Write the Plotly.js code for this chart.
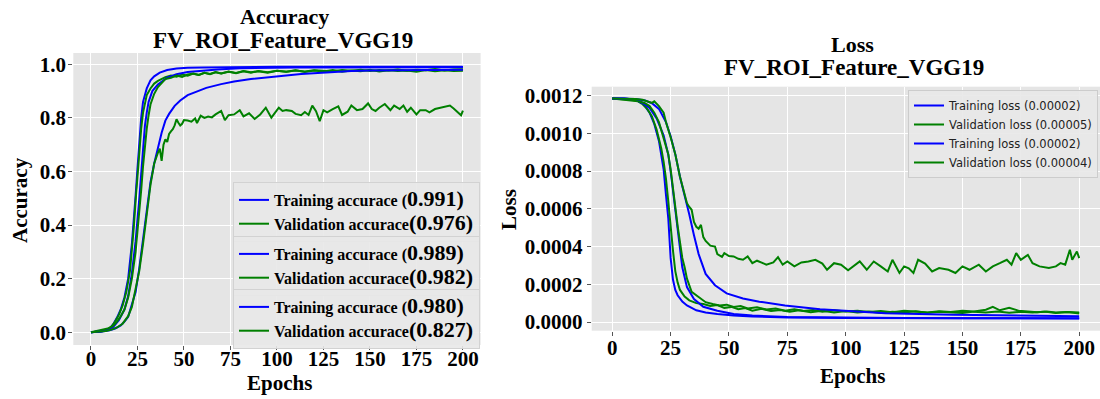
<!DOCTYPE html>
<html><head><meta charset="utf-8">
<script src="https://cdn.plot.ly/plotly-3.0.1.min.js"></script>
<style>html,body{margin:0;padding:0;background:#fff}#chart{width:1100px;height:399px}</style>
</head><body><div id="chart"></div>
<script>
// ---------- Accuracy data ----------
const accEpochT1 = [0,4,8,10,12,14,16,18,20,22,23,24,25,26,27,28,30,32,34,37,41,46,52,60,77,100,125,150,175,200];
const accT1 = [0,0.002,0.006,0.014,0.03,0.055,0.085,0.13,0.2,0.33,0.41,0.51,0.61,0.72,0.8,0.86,0.91,0.94,0.955,0.969,0.979,0.984,0.987,0.988,0.99,0.991,0.991,0.992,0.991,0.991];

const accEpochV1 = [0,3,6,9,11,13,15,17,19,21,22,23,24,25,26,27,28,29,30,32,34,36,38,40,43,46,49,52,55,58,61,64,67,70,74,78,82,86,90,95,100,105,110,115,120,125,130,135,140,145,150,155,160,165,170,175,180,185,190,195,200];
const accV1 = [0,0.003,0.004,0.012,0.02,0.04,0.065,0.1,0.15,0.23,0.3,0.39,0.49,0.59,0.68,0.76,0.82,0.86,0.885,0.91,0.928,0.938,0.946,0.952,0.958,0.954,0.962,0.957,0.965,0.96,0.968,0.963,0.97,0.966,0.972,0.967,0.974,0.969,0.975,0.97,0.976,0.972,0.978,0.971,0.977,0.973,0.979,0.972,0.977,0.974,0.98,0.973,0.978,0.975,0.977,0.972,0.979,0.974,0.978,0.975,0.976];

const accEpochT2 = [0,5,9,12,15,18,20,22,24,25,26,27,28,29,30,31,33,36,41,46,52,60,68,80,95,110,130,150,175,200];
const accT2 = [0,0.003,0.01,0.02,0.045,0.085,0.135,0.22,0.34,0.41,0.5,0.59,0.68,0.77,0.82,0.86,0.9,0.925,0.95,0.963,0.971,0.977,0.981,0.985,0.987,0.988,0.988,0.989,0.989,0.989];

const accEpochV2 = [0,3,6,9,12,14,16,18,20,22,24,25,26,27,28,29,30,31,32,34,36,38,40,43,46,49,52,55,58,61,64,67,70,74,78,82,86,90,95,100,105,110,115,120,125,130,135,140,145,150,155,160,165,170,175,180,185,190,195,200];
const accV2 = [0,0.004,0.008,0.014,0.025,0.04,0.06,0.085,0.13,0.2,0.3,0.37,0.45,0.53,0.62,0.7,0.76,0.81,0.85,0.89,0.915,0.93,0.945,0.95,0.958,0.953,0.962,0.966,0.96,0.968,0.964,0.971,0.966,0.973,0.968,0.975,0.97,0.974,0.969,0.976,0.972,0.977,0.973,0.978,0.975,0.974,0.979,0.976,0.98,0.975,0.979,0.977,0.981,0.976,0.98,0.978,0.982,0.977,0.981,0.982];

const accEpochT3 = [0,6,10,13,16,18,20,22,24,26,28,30,32,34,36,38,40,42,45,48,52,57,62,70,77,86,95,104,113,122,131,140,150,162,175,188,200];
const accT3 = [0,0.003,0.008,0.014,0.026,0.04,0.058,0.1,0.15,0.24,0.34,0.46,0.56,0.63,0.69,0.745,0.79,0.815,0.845,0.865,0.885,0.9,0.912,0.926,0.936,0.945,0.952,0.958,0.964,0.968,0.972,0.975,0.977,0.978,0.979,0.98,0.98];

const accEpochV3 = [0,4,8,11,14,17,20,22,24,26,28,30,32,34,35,36,37,38,39,40,41,42,43,44,45,46,47,48,49,50,52,54,56,57,59,61,63,65,67,70,72,74,77,80,82,85,88,91,94,97,99,101,103,105,108,110,113,115,117,119,121,123,125,127,130,133,135,138,140,143,146,149,151,153,155,158,161,163,166,168,170,172,175,177,180,182,185,188,191,193,195,197,199,200];
const accV3 = [0,0.002,0.005,0.01,0.018,0.032,0.06,0.095,0.16,0.23,0.33,0.44,0.55,0.63,0.655,0.67,0.685,0.64,0.7,0.72,0.71,0.74,0.75,0.758,0.772,0.795,0.782,0.772,0.778,0.792,0.79,0.786,0.798,0.781,0.808,0.8,0.805,0.802,0.813,0.826,0.792,0.81,0.813,0.829,0.806,0.817,0.796,0.813,0.838,0.801,0.82,0.838,0.826,0.829,0.826,0.815,0.81,0.822,0.811,0.846,0.825,0.788,0.829,0.821,0.833,0.843,0.811,0.823,0.846,0.829,0.833,0.854,0.833,0.826,0.838,0.852,0.829,0.846,0.833,0.846,0.823,0.838,0.813,0.829,0.829,0.821,0.833,0.838,0.842,0.846,0.835,0.823,0.81,0.827];

// ---------- Loss data ----------
const lossEpochT1 = [0,5,10,13,16,18,20,22,23,24,25,26,27,28,30,32,36,40,45,52,60,75,100,125,150,175,200];
const lossT1 = [11.85e-4,11.85e-4,11.8e-4,11.62e-4,11.1e-4,10.5e-4,9.6e-4,8.1e-4,6.75e-4,5.5e-4,3.4e-4,2.25e-4,1.7e-4,1.42e-4,1.08e-4,0.88e-4,0.62e-4,0.5e-4,0.42e-4,0.34e-4,0.29e-4,0.24e-4,0.21e-4,0.2e-4,0.19e-4,0.19e-4,0.19e-4];

const lossEpochV1 = [0,4,8,11,13,15,17,19,21,22,23,24,25,26,27,28,29,31,33,36,39,42,45,48,51,54,57,60,64,68,72,76,80,85,90,95,100,105,110,115,120,125,130,135,140,145,150,155,160,165,170,175,180,185,190,195,200];
const lossV1 = [11.85e-4,11.82e-4,11.75e-4,11.7e-4,11.55e-4,11.3e-4,10.9e-4,10.2e-4,9.2e-4,8.5e-4,7.6e-4,6.4e-4,5.0e-4,3.8e-4,2.7e-4,2.1e-4,1.7e-4,1.35e-4,1.15e-4,1.0e-4,0.95e-4,0.85e-4,0.9e-4,0.75e-4,0.8e-4,0.68e-4,0.74e-4,0.6e-4,0.7e-4,0.58e-4,0.64e-4,0.55e-4,0.62e-4,0.52e-4,0.6e-4,0.5e-4,0.58e-4,0.5e-4,0.56e-4,0.48e-4,0.55e-4,0.5e-4,0.57e-4,0.49e-4,0.55e-4,0.52e-4,0.48e-4,0.55e-4,0.5e-4,0.56e-4,0.49e-4,0.54e-4,0.5e-4,0.55e-4,0.48e-4,0.53e-4,0.5e-4];

const lossEpochT2 = [0,5,10,13,16,19,22,24,25,26,27,28,29,30,32,35,39,45,52,60,75,100,125,150,175,200];
const lossT2 = [11.85e-4,11.85e-4,11.78e-4,11.6e-4,11.35e-4,10.8e-4,9.9e-4,8.87e-4,8.0e-4,7.0e-4,6.0e-4,4.9e-4,3.73e-4,2.9e-4,1.85e-4,1.22e-4,0.81e-4,0.6e-4,0.42e-4,0.34e-4,0.27e-4,0.23e-4,0.21e-4,0.2e-4,0.2e-4,0.2e-4];

const lossEpochV2 = [0,4,8,11,14,16,18,20,22,24,25,26,27,28,29,30,31,32,34,36,38,40,43,46,49,52,55,58,62,66,70,74,78,82,86,90,95,100,105,110,115,120,125,130,135,140,145,150,155,160,163,166,170,174,178,182,186,190,195,200];
const lossV2 = [11.85e-4,11.83e-4,11.78e-4,11.72e-4,11.6e-4,11.45e-4,11.1e-4,10.6e-4,9.8e-4,8.9e-4,8.1e-4,7.2e-4,6.1e-4,5.1e-4,4.1e-4,3.4e-4,2.9e-4,2.3e-4,1.6e-4,1.4e-4,1.2e-4,1.05e-4,0.95e-4,0.88e-4,0.92e-4,0.8e-4,0.85e-4,0.72e-4,0.78e-4,0.66e-4,0.72e-4,0.6e-4,0.67e-4,0.58e-4,0.64e-4,0.55e-4,0.62e-4,0.56e-4,0.6e-4,0.53e-4,0.58e-4,0.52e-4,0.6e-4,0.55e-4,0.5e-4,0.57e-4,0.53e-4,0.6e-4,0.56e-4,0.65e-4,0.8e-4,0.62e-4,0.75e-4,0.6e-4,0.58e-4,0.52e-4,0.56e-4,0.5e-4,0.53e-4,0.45e-4];

const lossEpochT3 = [0,5,10,14,17,20,23,25,27,29,31,33,35,37,40,44,49,56,63,74,89,103,117,146,174,200];
const lossT3 = [11.85e-4,11.85e-4,11.82e-4,11.75e-4,11.6e-4,11.3e-4,10.6e-4,9.85e-4,8.9e-4,7.7e-4,6.75e-4,5.7e-4,4.6e-4,3.6e-4,2.55e-4,1.95e-4,1.52e-4,1.25e-4,1.08e-4,0.87e-4,0.68e-4,0.56e-4,0.47e-4,0.38e-4,0.33e-4,0.3e-4];

const lossEpochV3 = [0,5,10,13,15,17,18,19,20,22,23,25,27,29,31,32,33,34,35,36,37,38,39,40,42,44,45,46,47,48,50,52,54,56,58,60,62,64,66,69,71,73,75,78,81,84,87,90,92,95,98,101,104,106,109,112,115,118,120,123,125,127,129,131,134,137,140,144,147,150,153,155,157,160,163,166,169,171,173,175,178,180,183,187,190,192,194,196,197,199,200];
const lossV3 = [11.85e-4,11.85e-4,11.82e-4,11.78e-4,11.7e-4,11.62e-4,11.7e-4,11.6e-4,11.45e-4,11.1e-4,10.6e-4,9.8e-4,8.9e-4,7.7e-4,6.75e-4,6.3e-4,6.1e-4,5.95e-4,5.3e-4,5.05e-4,4.95e-4,5.15e-4,4.5e-4,4.3e-4,4.05e-4,4.0e-4,3.6e-4,3.5e-4,3.45e-4,3.65e-4,3.5e-4,3.48e-4,3.35e-4,3.3e-4,3.48e-4,3.12e-4,3.25e-4,3.15e-4,3.04e-4,3.16e-4,3.44e-4,3.04e-4,3.21e-4,2.95e-4,3.16e-4,3.21e-4,3.3e-4,3.1e-4,2.77e-4,3.12e-4,3.04e-4,2.74e-4,3.0e-4,3.21e-4,2.77e-4,3.21e-4,2.95e-4,2.68e-4,3.3e-4,2.6e-4,2.95e-4,2.85e-4,2.6e-4,3.3e-4,3.1e-4,2.68e-4,2.86e-4,2.77e-4,2.6e-4,2.95e-4,2.77e-4,2.9e-4,3.04e-4,2.68e-4,2.95e-4,3.12e-4,3.3e-4,3.04e-4,3.65e-4,3.3e-4,3.56e-4,3.12e-4,2.95e-4,2.86e-4,2.95e-4,3.12e-4,3.04e-4,3.83e-4,3.3e-4,3.74e-4,3.39e-4];

// ---------- labels / ticks ----------
const epochTicks = [0,25,50,75,100,125,150,175,200];
const accTicks = [0,0.2,0.4,0.6,0.8,1.0];
const lossTicks = [0,0.0002,0.0004,0.0006,0.0008,0.0010,0.0012];
const accNames = [
  'Training accurace (', '0.991)',
  'Validation accurace', '(0.976)',
  'Training accurace (', '0.989)',
  'Validation accurace', '(0.982)',
  'Training accurace (', '0.980)',
  'Validation accurace', '(0.827)'
];
const lossNames = ['Training loss (0.00002)','Validation loss (0.00005)','Training loss (0.00002)','Validation loss (0.00004)'];
const titleMain = 'FV_ROI_Feature_VGG19';

const BLUE = '#0000ff', GREEN = '#008000';
const SERIF = 'Liberation Serif';

function accName(i){ return '<b>' + accNames[2*i] + '<span style="font-size:22px">' + accNames[2*i+1] + '</span></b>'; }
function line(x, y, color, xa, ya, name, legend, show){
  return {x:x, y:y, type:'scatter', mode:'lines', line:{color:color, width:2},
          xaxis:xa, yaxis:ya, name:name, legend:legend, showlegend:show, hoverinfo:'skip'};
}

const traces = [
  line(accEpochT1, accT1, BLUE, 'x', 'y', accName(0), 'legend', true),
  line(accEpochV1, accV1, GREEN, 'x', 'y', accName(1), 'legend', true),
  line(accEpochT2, accT2, BLUE, 'x', 'y', accName(2), 'legend2', true),
  line(accEpochV2, accV2, GREEN, 'x', 'y', accName(3), 'legend2', true),
  line(accEpochT3, accT3, BLUE, 'x', 'y', accName(4), 'legend3', true),
  line(accEpochV3, accV3, GREEN, 'x', 'y', accName(5), 'legend3', true),
  line(lossEpochT1, lossT1, BLUE, 'x2', 'y2', lossNames[0], 'legend4', true),
  line(lossEpochV1, lossV1, GREEN, 'x2', 'y2', lossNames[1], 'legend4', true),
  line(lossEpochT2, lossT2, BLUE, 'x2', 'y2', lossNames[2], 'legend4', true),
  line(lossEpochV2, lossV2, GREEN, 'x2', 'y2', lossNames[3], 'legend4', true),
  line(lossEpochT3, lossT3, BLUE, 'x2', 'y2', '', 'legend4', false),
  line(lossEpochV3, lossV3, GREEN, 'x2', 'y2', '', 'legend4', false)
];

const tickFont = {family:SERIF, size:21, color:'#000', weight:'bold'};
const axisCommon = {ticks:'outside', ticklen:4, tickwidth:1, tickcolor:'#555', gridcolor:'#ffffff', gridwidth:1,
  zeroline:false, showline:false, tickfont:tickFont, fixedrange:true};

const leftLegend = {bgcolor:'rgba(232,232,232,0.9)', bordercolor:'#d2d2d2', borderwidth:1,
  font:{family:SERIF, size:16, color:'#000'}, xanchor:'left', yanchor:'top', tracegroupgap:0, itemclick:false, itemdoubleclick:false};

function ann(text, xpx, ypx, size, angle){
  return {text:'<b>'+text+'</b>', x:xpx/1100, y:1-ypx/399, xref:'paper', yref:'paper', showarrow:false,
    xanchor:'center', yanchor:'middle', textangle:angle||0, font:{family:SERIF, size:size, color:'#000'}};
}

const layout = {
  width:1100, height:399, margin:{l:0, r:0, t:0, b:0},
  paper_bgcolor:'#ffffff', plot_bgcolor:'#e5e5e5', showlegend:true,
  xaxis: Object.assign({}, axisCommon, {domain:[73.3/1100, 480.6/1100], range:[-9.5,209.5], tickvals:epochTicks, anchor:'y', ticklabelstandoff:-9}),
  yaxis: Object.assign({}, axisCommon, {domain:[1-345/399, 1-53/399], range:[-0.0474,1.0422], tickvals:accTicks, tickformat:'.1f', anchor:'x', ticklabelstandoff:-2}),
  xaxis2: Object.assign({}, axisCommon, {domain:[591.7/1100, 1], range:[-8.8,208.9], tickvals:epochTicks, anchor:'y2', ticklabelstandoff:-6}),
  yaxis2: Object.assign({}, axisCommon, {domain:[1-330.7/399, 1-86.7/399], range:[-0.0000461,0.0012477], tickvals:lossTicks, tickformat:'.4f', anchor:'x2'}),
  legend:  Object.assign({}, leftLegend, {x:233/1100, y:1-182/399}),
  legend2: Object.assign({}, leftLegend, {x:233/1100, y:1-236/399}),
  legend3: Object.assign({}, leftLegend, {x:233/1100, y:1-289/399}),
  legend4: {bgcolor:'rgba(232,232,232,0.9)', bordercolor:'#cccccc', borderwidth:1,
    font:{family:'DejaVu Sans', size:11.5, color:'#222'}, x:1098/1100, y:1-90/399, xanchor:'right', yanchor:'top',
    itemclick:false, itemdoubleclick:false},
  annotations: [
    ann('Accuracy', 284, 17, 22),
    ann(titleMain, 283, 40, 23),
    ann('Loss', 852, 45, 22),
    ann(titleMain, 854, 67, 23),
    ann('Epochs', 279, 383, 21),
    ann('Epochs', 852, 376, 21),
    ann('Accuracy', 20, 200, 21, -90),
    ann('Loss', 509, 210, 21, -90)
  ]
};

Plotly.newPlot('chart', traces, layout, {staticPlot:true, displayModeBar:false});
</script>
</body></html>
